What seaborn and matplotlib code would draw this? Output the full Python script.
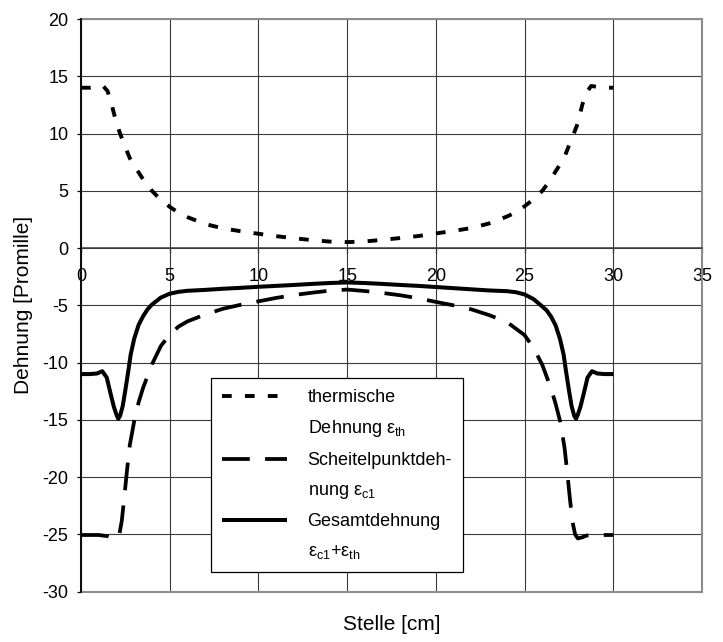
import matplotlib
matplotlib.use("Agg")
import matplotlib.pyplot as plt
from matplotlib.lines import Line2D
from matplotlib.patches import Rectangle
import seaborn as sns

# Stelle [cm] und Dehnung [Promille] der drei Verläufe
x_th = [0, 0.5, 1.0, 1.25, 1.5, 1.75, 2.0, 2.25, 2.5, 2.75, 3.0, 3.25, 3.5, 4.0, 4.5,
        5.0, 5.5, 6.0, 7.0, 8.0, 9.0, 10.0, 11.0, 12.0, 13.0, 14.0, 15.0,
        16.0, 17.0, 18.0, 19.0, 20.0, 21.0, 22.0, 23.0, 24.0, 24.5, 25.0, 25.5, 26.0,
        26.5, 26.75, 27.0, 27.25, 27.5, 27.75, 28.0, 28.25, 28.5, 28.75, 29.0, 29.5, 30.0]
eps_th = [14.0, 14.0, 14.1, 14.15, 13.7, 12.4, 10.9, 9.8, 8.8, 7.85, 7.2, 6.6, 6.0, 5.0, 4.2,
          3.6, 3.08, 2.7, 2.1, 1.72, 1.47, 1.25, 1.04, 0.86, 0.7, 0.57, 0.52,
          0.58, 0.72, 0.88, 1.05, 1.28, 1.5, 1.75, 2.15, 2.75, 3.12, 3.65, 4.25, 5.0,
          6.05, 6.7, 7.3, 7.95, 8.95, 9.9, 10.9, 12.5, 13.6, 14.15, 14.1, 14.0, 14.0]

x_c1 = [0, 0.5, 1.0, 1.5, 1.75, 2.0, 2.15, 2.3, 2.45, 2.6, 2.75, 3.0, 3.25, 3.5, 4.0,
        4.5, 5.0, 5.5, 6.0, 7.0, 8.0, 9.0, 10.0, 11.0, 12.0, 13.0, 14.0, 15.0,
        16.0, 17.0, 18.0, 19.0, 20.0, 21.0, 22.0, 23.0, 24.0, 25.0, 25.5, 26.0, 26.5,
        26.75, 27.0, 27.25, 27.4, 27.55, 27.7, 27.85, 28.0, 28.25, 28.5, 29.0, 29.5, 30.0]
eps_c1 = [-25.05, -25.05, -25.05, -25.15, -25.3, -25.4, -25.1, -23.8, -21.6, -19.3, -17.2,
          -15.1, -13.45, -12.2, -10.15, -8.55, -7.55, -6.85, -6.4, -5.8, -5.3, -4.95,
          -4.65, -4.35, -4.1, -3.9, -3.72, -3.62,
          -3.75, -3.92, -4.12, -4.38, -4.7, -5.0, -5.35, -5.85, -6.45, -7.6, -8.7,
          -10.2, -12.3, -13.6, -15.1, -17.4, -19.5, -21.8, -23.9, -25.0, -25.35,
          -25.25, -25.1, -25.05, -25.05, -25.05]

x_tot = [0, 0.5, 0.9, 1.2, 1.45, 1.65, 1.85, 2.0, 2.1, 2.2, 2.35, 2.5, 2.65, 2.8, 3.0,
         3.25, 3.5, 3.75, 4.0, 4.5, 5.0, 5.5, 6.0, 7.0, 8.0, 9.0, 10.0, 11.0, 12.0,
         13.0, 14.0, 15.0,
         16.0, 17.0, 18.0, 19.0, 20.0, 21.0, 22.0, 23.0, 24.0, 24.5, 25.0, 25.5, 26.0,
         26.25, 26.5, 26.75, 27.0, 27.2, 27.35, 27.5, 27.65, 27.8, 27.9, 28.0, 28.15,
         28.35, 28.55, 28.8, 29.1, 29.5, 30.0]
eps_tot = [-11.0, -11.0, -10.95, -10.75, -11.3, -12.6, -13.85, -14.55, -14.9, -14.65,
           -13.8, -12.4, -10.9, -9.3, -7.9, -6.7, -5.95, -5.35, -4.93, -4.32, -3.98,
           -3.82, -3.73, -3.65, -3.55, -3.47, -3.38, -3.3, -3.22, -3.13, -3.05, -3.0,
           -3.05, -3.13, -3.22, -3.3, -3.4, -3.5, -3.6, -3.7, -3.76, -3.85, -4.05,
           -4.45, -5.1, -5.45, -6.0, -6.75, -7.95, -9.3, -10.9, -12.4, -13.8, -14.65,
           -14.9, -14.55, -13.85, -12.6, -11.3, -10.75, -10.95, -11.0, -11.0]

x_ticks = [0, 5, 10, 15, 20, 25, 30, 35]
y_ticks = [-30, -25, -20, -15, -10, -5, 0, 5, 10, 15, 20]

legend_labels = [
    "thermische",
    "Dehnung ε$_{\\mathregular{th}}$",
    "Scheitelpunktdeh-",
    "nung ε$_{\\mathregular{c1}}$",
    "Gesamtdehnung",
    "ε$_{\\mathregular{c1}}$+ε$_{\\mathregular{th}}$",
]

sns.set_theme(style="white")
plt.rcParams["font.family"] = ["Liberation Sans", "DejaVu Sans"]
plt.rcParams["mathtext.fontset"] = "custom"
plt.rcParams["mathtext.rm"] = "Liberation Sans"
plt.rcParams["lines.scale_dashes"] = False

W, H = 723, 642
fig = plt.figure(figsize=(W / 100, H / 100), dpi=100)
fig.patch.set_facecolor("white")
ax_l, ax_r, ax_t, ax_b = 81, 702, 19, 591.7
ax = fig.add_axes([ax_l / W, 1 - ax_b / H, (ax_r - ax_l) / W, (ax_b - ax_t) / H])
ax.set_facecolor("white")

short_dash = (0, (7.0, 9.5))
long_dash = (0, (20.0, 11.0))

sns.lineplot(x=x_th, y=eps_th, ax=ax, color="black", lw=2.8, linestyle=short_dash,
             estimator=None, legend=False)
sns.lineplot(x=x_c1, y=eps_c1, ax=ax, color="black", lw=2.7, linestyle=long_dash,
             estimator=None, legend=False)
sns.lineplot(x=x_tot, y=eps_tot, ax=ax, color="black", lw=2.9, linestyle="-",
             estimator=None, legend=False)
for ln in ax.get_lines():
    ln.set_dash_capstyle("butt")
    ln.set_solid_capstyle("butt")

ax.set_xlim(0, 35)
ax.set_ylim(-30, 20)
ax.set_xticks(x_ticks)
ax.set_yticks(y_ticks)
ax.set_xticklabels([str(v) for v in x_ticks])
ax.set_yticklabels([str(v) for v in y_ticks])

ax.grid(True, color="#3a3a3a", lw=0.8)
ax.set_axisbelow(True)

# Rahmen der Zeichenfläche
for side in ("top", "right"):
    ax.spines[side].set_visible(False)
ax.add_patch(Rectangle((0, 0), 1, 1, transform=ax.transAxes, fill=False,
                       edgecolor="#8c8c8c", lw=1.5, clip_on=False, zorder=1.5))
ax.spines["left"].set_color("black")
ax.spines["left"].set_linewidth(1.3)
ax.spines["left"].set_zorder(3)
ax.spines["bottom"].set_position(("data", 0))
ax.spines["bottom"].set_color("#3a3a3a")
ax.spines["bottom"].set_linewidth(1.1)

ax.tick_params(axis="x", bottom=True, direction="out", length=3.6, width=0.9,
               pad=11, labelsize=13, color="#333333", labelcolor="black")
ax.tick_params(axis="y", left=True, direction="out", length=3.0, width=0.9,
               pad=6, labelsize=13, color="black", labelcolor="black")

ax.set_ylabel("Dehnung [Promille]", fontsize=15, color="black", va="center")
ax.yaxis.set_label_coords((23.5 - ax_l) / (ax_r - ax_l), 0.5)
ax.set_xlabel("Stelle [cm]", fontsize=15, color="black", va="center")
ax.xaxis.set_label_coords(0.5, -(625 - ax_b) / (ax_b - ax_t))

lines = ax.get_lines()
blank = Line2D([], [], linestyle="none")
handles = [lines[0], blank, lines[1], blank, lines[2], blank]
leg = ax.legend(handles, legend_labels, loc="upper left",
                bbox_to_anchor=((211 - ax_l) / (ax_r - ax_l), (ax_b - 378) / (ax_b - ax_t)),
                bbox_transform=ax.transAxes, borderaxespad=0, frameon=True,
                fancybox=False, framealpha=1, edgecolor="black", facecolor="white",
                fontsize=13, handlelength=3.6, handletextpad=1.15, labelspacing=0.7,
                borderpad=0.6)
leg.get_frame().set_linewidth(0.9)
for t in leg.get_texts():
    t.set_color("black")

fig.savefig("out.png", dpi=100, facecolor="white")
